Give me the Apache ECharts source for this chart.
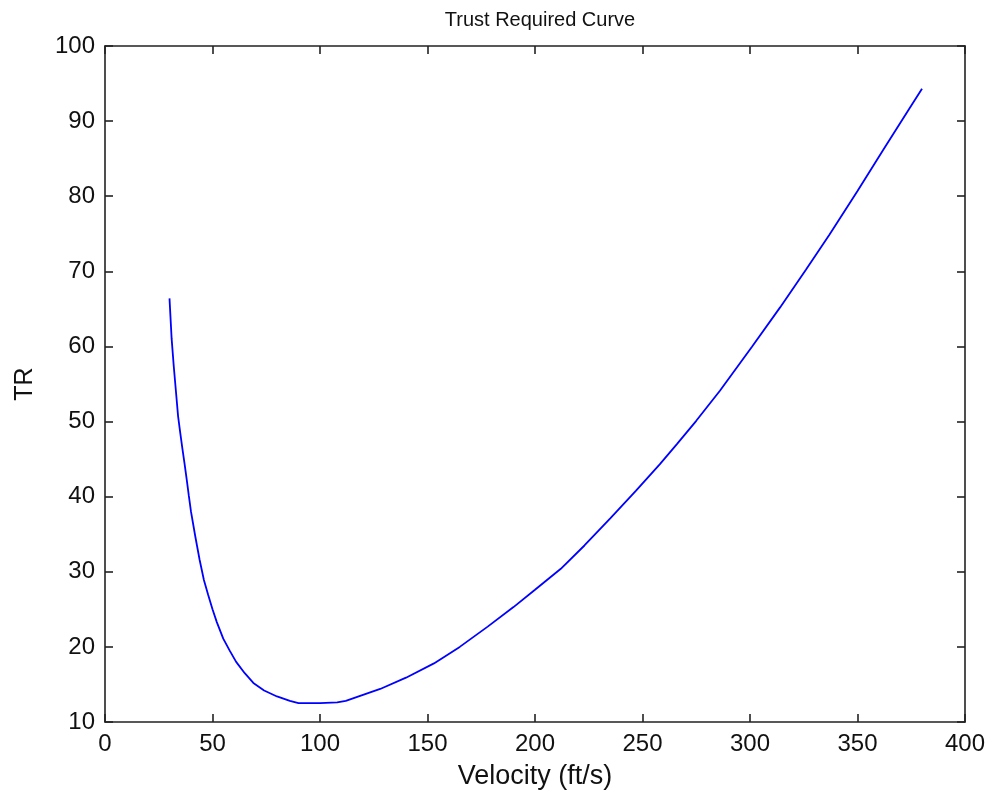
<!DOCTYPE html>
<html>
<head>
<meta charset="utf-8">
<script src="https://cdn.jsdelivr.net/npm/echarts@6/dist/echarts.min.js"></script>
<style>html,body{margin:0;padding:0;background:#fff;}#c{width:994px;height:796px;}</style>
</head>
<body>
<div id="c"></div>
<script>
const velocity = [30, 31, 32, 33, 34, 35, 36, 37, 38, 39, 40, 42, 44, 46, 48, 50, 52, 55, 58, 61, 65, 69, 74, 80, 86, 90, 100, 108, 112, 118, 128, 140, 153, 165, 178, 190, 200, 212, 223, 235, 247, 258, 266, 275, 286, 301, 314, 326, 337, 350, 362, 374, 380];
const thrust = [66.4, 61.0, 57.3, 54.0, 50.7, 48.5, 46.4, 44.4, 42.3, 40.1, 38.0, 34.7, 31.6, 28.9, 26.9, 25.0, 23.3, 21.1, 19.5, 18.0, 16.5, 15.2, 14.2, 13.4, 12.8, 12.5, 12.5, 12.6, 12.8, 13.4, 14.4, 15.9, 17.8, 20.0, 22.7, 25.3, 27.6, 30.4, 33.5, 37.1, 40.8, 44.3, 47.0, 50.1, 54.1, 60.0, 65.2, 70.2, 74.9, 80.7, 86.2, 91.6, 94.3];
const xTicks = {min: 0, max: 400, interval: 50};
const yTicks = {min: 10, max: 100, interval: 10};

const font = '"Liberation Sans", Arial, sans-serif';
const txt = '#111';
function axisCommon() {
  return {
    axisLine: {show: true, onZero: false, lineStyle: {color: '#222', width: 1.6}},
    axisTick: {show: true, inside: true, length: 8, lineStyle: {color: '#222', width: 1.6}},
    splitLine: {show: false}
  };
}
const chart = echarts.init(document.getElementById('c'));
chart.setOption({
  animation: false,
  backgroundColor: '#fff',
  title: {
    text: 'Trust Required Curve',
    left: 535, top: 5, textAlign: 'center',
    textStyle: {fontFamily: font, fontSize: 20, fontWeight: 'normal', color: txt}
  },
  grid: {left: 105, right: 29, top: 46, bottom: 74},
  xAxis: [
    Object.assign({
      type: 'value', position: 'bottom', min: xTicks.min, max: xTicks.max, interval: xTicks.interval,
      name: 'Velocity (ft/s)', nameLocation: 'middle', nameGap: 41,
      nameTextStyle: {fontFamily: font, fontSize: 27, color: txt},
      axisLabel: {fontFamily: font, fontSize: 24, color: txt, margin: 10}
    }, axisCommon()),
    Object.assign({
      type: 'value', position: 'top', min: xTicks.min, max: xTicks.max, interval: xTicks.interval,
      axisLabel: {show: false}
    }, axisCommon())
  ],
  yAxis: [
    Object.assign({
      type: 'value', position: 'left', min: yTicks.min, max: yTicks.max, interval: yTicks.interval,
      name: 'TR', nameLocation: 'middle', nameGap: 67, nameRotate: 90,
      nameTextStyle: {fontFamily: font, fontSize: 25, color: txt},
      axisLabel: {fontFamily: font, fontSize: 24, color: txt, margin: 10}
    }, axisCommon()),
    Object.assign({
      type: 'value', position: 'right', min: yTicks.min, max: yTicks.max, interval: yTicks.interval,
      axisLabel: {show: false}
    }, axisCommon())
  ],
  series: [{
    type: 'line',
    data: velocity.map((v, i) => [v, thrust[i]]),
    showSymbol: false,
    smooth: false,
    lineStyle: {color: '#0000ff', width: 1.8},
    xAxisIndex: 0, yAxisIndex: 0
  }]
});
</script>
</body>
</html>
